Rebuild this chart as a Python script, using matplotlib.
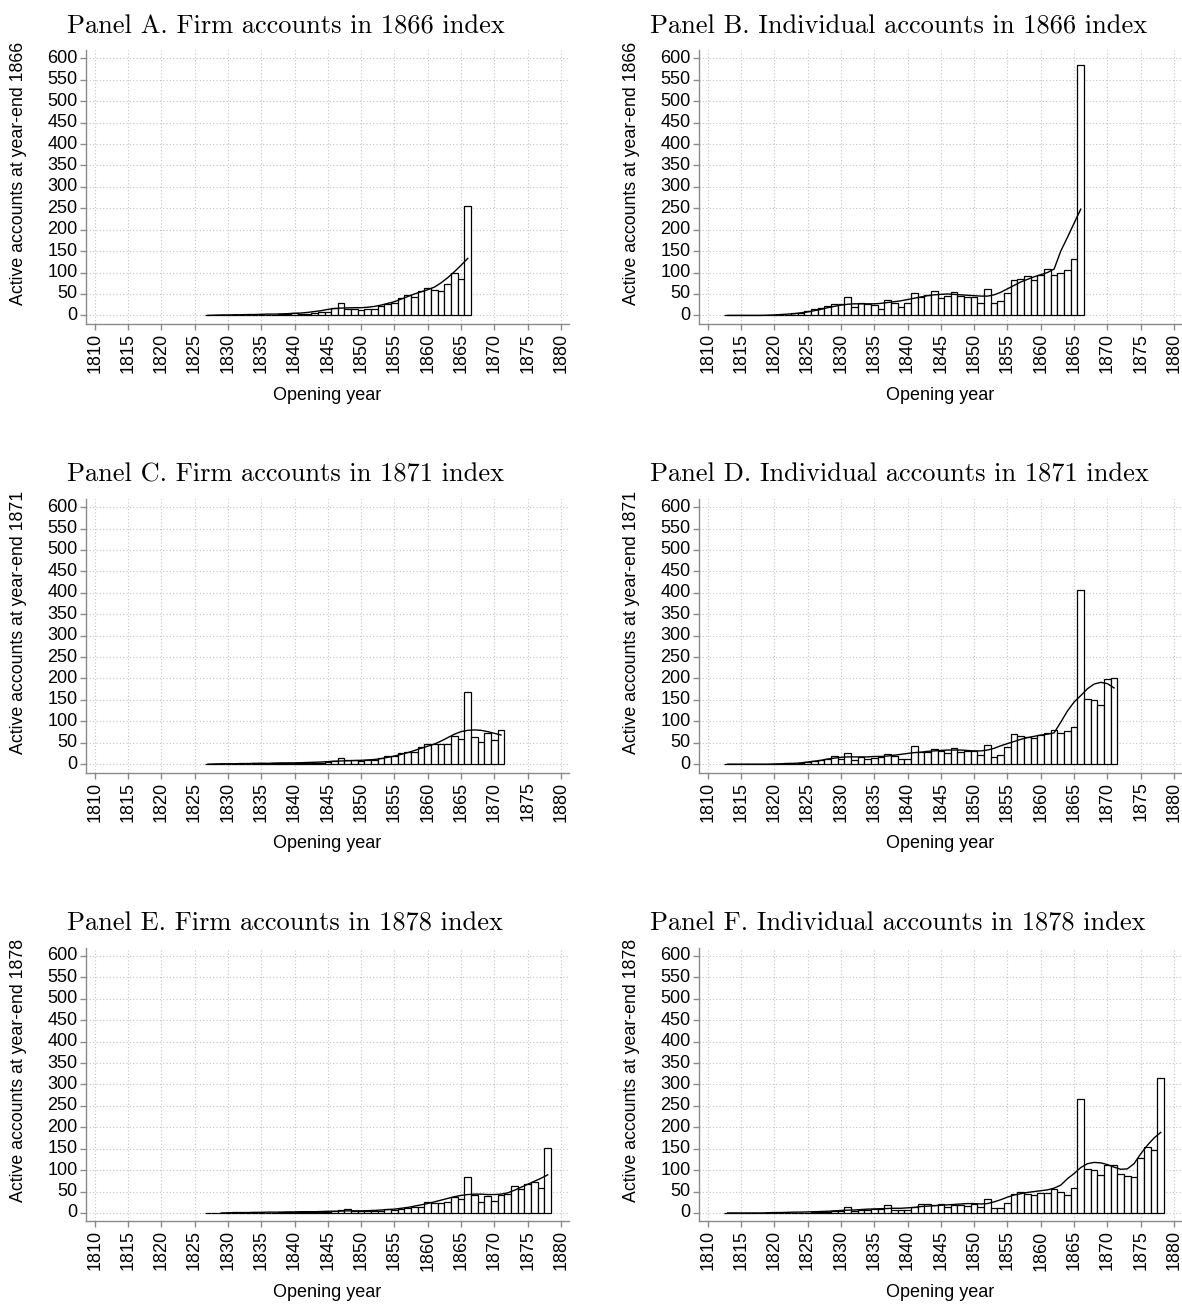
import numpy as np
import matplotlib
matplotlib.use("Agg")
import matplotlib.pyplot as plt

# ---- data (active accounts by opening year) ----
years_A = list(range(1827, 1867))
bars_A = [1, 0, 1, 1, 1, 1, 1, 2, 2, 1, 2, 3, 4, 5, 3, 3, 5, 7, 9, 18,
          28, 16, 16, 13, 15, 15, 22, 27, 29, 41, 48, 43, 57, 64, 60, 57, 73, 100, 85, 255]
smooth_A = [0, 0.5, 1, 1, 1.5, 1.5, 2, 2, 2.5, 3, 3, 3.5, 4, 5, 5.5, 7, 9, 11, 14, 16,
            17, 17.5, 18, 18, 19, 21, 24, 28, 32, 38, 44, 50, 55, 60, 66, 76, 88, 102, 117, 133]

years_B = list(range(1813, 1867))
bars_B = [1, 1, 1, 1, 0, 0, 1, 0, 0, 1, 5, 6, 10, 14, 17, 22, 27, 26, 43, 19,
          30, 26, 25, 14, 35, 28, 20, 28, 52, 44, 48, 58, 41, 45, 55, 46, 44, 43, 30, 61,
          30, 34, 52, 83, 86, 91, 82, 94, 109, 95, 100, 106, 132, 584]
smooth_B = [0, 0, 0, 0, 0, 0, 0.5, 1, 2, 3, 4, 6, 8, 11, 14, 18, 21, 24, 26, 27,
            27, 27, 27, 28, 30, 32, 34, 37, 40, 43, 46, 48, 49, 50, 49, 48, 47, 46, 45, 45,
            48, 54, 62, 70, 78, 84, 90, 95, 100, 108, 150, 182, 215, 248]

years_C = list(range(1827, 1872))
bars_C = [1, 0, 1, 1, 1, 1, 1, 1, 2, 1, 2, 3, 3, 3, 2, 2, 3, 3, 5, 8,
          15, 9, 9, 7, 9, 9, 15, 20, 20, 27, 29, 29, 39, 47, 46, 46, 46, 66, 58, 169,
          64, 51, 72, 56, 80]
smooth_C = [0, 0.5, 1, 1, 1, 1.5, 1.5, 2, 2, 2, 2.5, 3, 3, 3, 3.5, 4, 4.5, 5, 6, 7,
            7.5, 8, 8.5, 9, 10, 11, 13, 16, 19, 23, 27, 32, 37, 42, 47, 54, 62, 70, 76, 79,
            80, 79, 76, 72, 68]

years_D = list(range(1813, 1872))
bars_D = [0, 1, 0, 1, 0, 0, 1, 0, 0, 2, 1, 3, 5, 7, 9, 13, 18, 11, 26, 9,
          17, 11, 15, 16, 23, 19, 12, 12, 43, 29, 29, 36, 30, 25, 37, 28, 30, 30, 22, 45,
          17, 22, 39, 71, 66, 64, 60, 69, 72, 79, 73, 78, 87, 407, 152, 150, 139, 199, 201]
smooth_D = [0, 0, 0, 0, 0, 0, 0, 0.5, 1, 1.5, 2, 3, 5, 7, 9, 12, 14, 16, 17, 17,
            17, 17, 18, 18, 19, 21, 23, 25, 27, 28, 30, 31, 32, 33, 33, 33, 32, 31, 31, 33,
            37, 43, 48, 53, 58, 62, 65, 68, 70, 73, 98, 124, 145, 160, 176, 187, 191, 188, 178]

years_E = list(range(1827, 1879))
bars_E = [1, 0, 1, 1, 1, 1, 1, 1, 1, 1, 1, 2, 2, 2, 2, 2, 2, 3, 2, 5,
          8, 10, 4, 4, 4, 4, 5, 9, 6, 9, 12, 14, 13, 25, 24, 23, 26, 37, 32, 83,
          43, 26, 40, 27, 43, 44, 62, 55, 67, 73, 58, 151]
smooth_years_E = list(range(1829, 1879))
smooth_E = [0, 0.5, 1, 1, 1, 1.5, 1.5, 2, 2, 2, 2.5, 2.5, 3, 3, 3, 3.5, 4, 4, 4.5, 5,
            5, 5, 5.5, 6, 7, 8, 9, 11, 13, 16, 19, 22, 26, 30, 34, 38, 41, 43, 44, 44,
            43, 43, 44, 47, 53, 60, 67, 74, 81, 89]

years_F = list(range(1813, 1879))
bars_F = [0, 0, 0, 1, 0, 1, 0, 0, 0, 1, 1, 1, 1, 2, 2, 3, 5, 5, 15, 5,
          6, 7, 9, 9, 18, 7, 7, 7, 13, 21, 20, 19, 20, 14, 19, 19, 16, 22, 14, 33,
          12, 11, 23, 44, 49, 44, 41, 47, 47, 57, 50, 42, 58, 266, 103, 100, 88, 111, 111, 91,
          86, 85, 128, 154, 146, 315]
smooth_F = [0, 0, 0, 0, 0, 0, 0.5, 1, 1, 1.5, 2, 2, 2.5, 3, 3.5, 4, 5, 6, 6.5, 7,
            8, 9, 9.5, 10, 10.5, 11, 11, 12, 13, 15, 16, 17, 18, 19, 20, 21, 22, 22, 21, 22,
            26, 31, 37, 42, 45, 48, 50, 52, 54, 58, 65, 80, 92, 106, 115, 118, 117, 113, 107, 102,
            103, 115, 138, 158, 175, 188]

titles = ["Panel A. Firm accounts in 1866 index",
          "Panel B. Individual accounts in 1866 index",
          "Panel C. Firm accounts in 1871 index",
          "Panel D. Individual accounts in 1871 index",
          "Panel E. Firm accounts in 1878 index",
          "Panel F. Individual accounts in 1878 index"]
index_years = ["1866", "1866", "1871", "1871", "1878", "1878"]

panels = [
    (years_A, bars_A, years_A, smooth_A),
    (years_B, bars_B, years_B, smooth_B),
    (years_C, bars_C, years_C, smooth_C),
    (years_D, bars_D, years_D, smooth_D),
    (years_E, bars_E, smooth_years_E, smooth_E),
    (years_F, bars_F, years_F, smooth_F),
]

W, H = 1182, 1304
fig = plt.figure(figsize=(W / 100, H / 100), dpi=100)
plt.rcParams['font.family'] = ['Liberation Sans', 'DejaVu Sans']

spine_col = "#8a8a8a"
grid_col = "#c4c4c4"
ax_w = 483
ax_h = 273.7
lefts = [86, 699]
tops = [50, 498.8, 947.6]
title_x = [67, 650]

for i, (yr, vals, syr, sm) in enumerate(panels):
    row, col = i // 2, i % 2
    l = lefts[col] / W
    b = 1 - (tops[row] + ax_h) / H
    ax = fig.add_axes([l, b, ax_w / W, ax_h / H])

    ax.bar(yr, vals, width=1.0, color="white", edgecolor="black", linewidth=0.9, zorder=3)
    ax.plot(syr, sm, color="black", linewidth=1.0, zorder=4)

    ax.set_xlim(1808.7, 1881.2)
    ax.set_ylim(-19.4, 619.4)
    ax.set_xticks(np.arange(1810, 1881, 5))
    ax.set_yticks(np.arange(0, 601, 50))
    ax.tick_params(axis="x", labelrotation=90, labelsize=13, length=4, width=1,
                   color=spine_col, pad=2.5)
    ax.tick_params(axis="y", labelsize=13, length=4, width=1, color=spine_col, pad=2)
    for lab in ax.get_yticklabels():
        lab.set_verticalalignment("center")
    ax.grid(True, color=grid_col, linestyle=(0, (1, 2)), linewidth=0.8, zorder=0)
    ax.set_axisbelow(True)
    for s in ["top", "right"]:
        ax.spines[s].set_visible(False)
    for s in ["left", "bottom"]:
        ax.spines[s].set_color(spine_col)
        ax.spines[s].set_linewidth(1)

    ax.set_ylabel("Active accounts at year-end " + index_years[i], fontsize=12.8)
    ax.yaxis.set_label_coords(-0.123, 0.55)
    ax.set_xlabel("Opening year", fontsize=13)
    ax.xaxis.set_label_coords(0.5, -0.23)

    fig.text(title_x[col] / W, 1 - (33 + 448.8 * row) / H, titles[i],
             fontfamily="cmr10", fontsize=19, ha="left", va="baseline")

fig.savefig("out.png", dpi=100, facecolor="white")
